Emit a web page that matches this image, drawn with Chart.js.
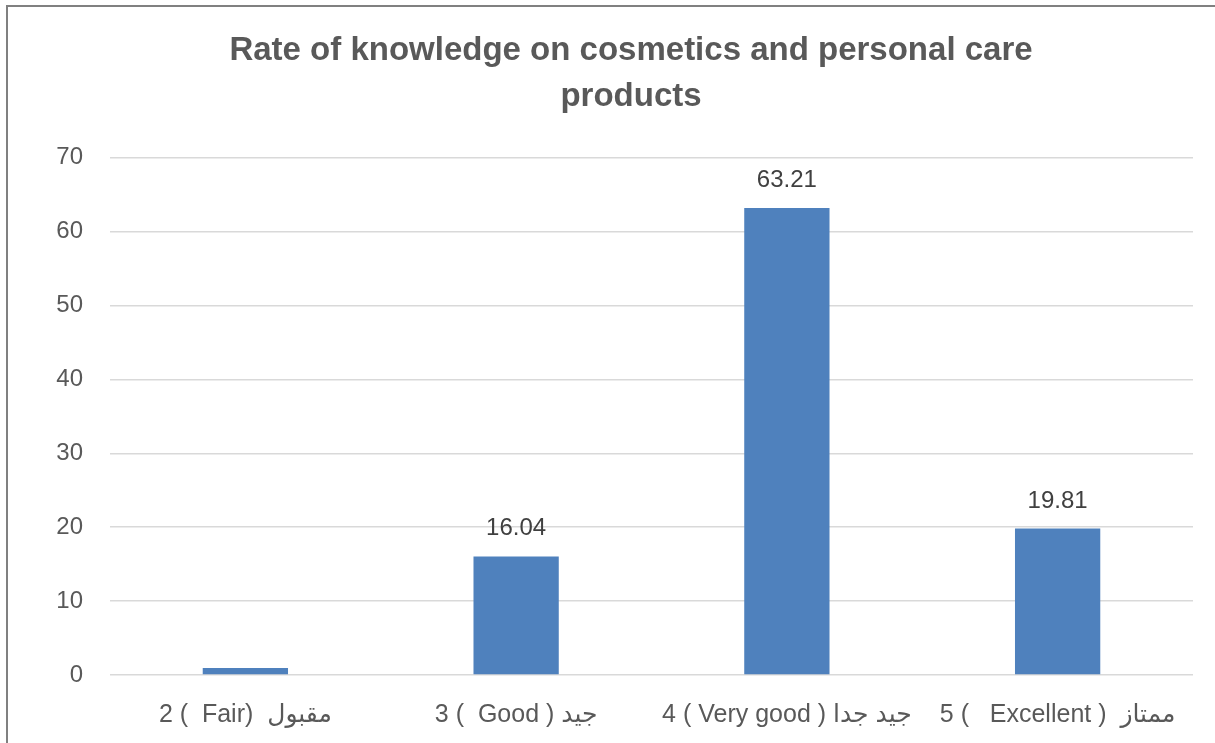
<!DOCTYPE html>
<html>
<head>
<meta charset="utf-8">
<script src="https://cdn.jsdelivr.net/npm/chart.js@4"></script>
<style>
  html, body { margin: 0; padding: 0; background: #fff; }
  #wrap { position: relative; width: 1215px; height: 743px; }
</style>
</head>
<body>
<div id="wrap"><canvas id="knowledgeChart" width="1215" height="743"></canvas></div>
<script>
// Rating categories (English with Arabic)
const categories = [
    '2 (  Fair)  مقبول',
    '3 (  Good ) جيد',
    '4 ( Very good ) جيد جدا',
    '5 (   Excellent )  ممتاز'
];
// Percent of respondents per rating
const percents = [0.94, 16.04, 63.21, 19.81];
// Which bars carry a value label
const showValue = [false, true, true, true];
const yTicks = [0, 10, 20, 30, 40, 50, 60, 70];

const textFont = "'Liberation Sans', 'DejaVu Sans', sans-serif";

// Value labels above the bars
const valueLabels = {
    id: 'valueLabels',
    afterDatasetsDraw(chart) {
        const ctx = chart.ctx;
        const meta = chart.getDatasetMeta(0);
        ctx.save();
        ctx.font = '24px ' + textFont;
        ctx.fillStyle = '#404040';
        ctx.textAlign = 'center';
        ctx.textBaseline = 'alphabetic';
        meta.data.forEach((bar, i) => {
            if (!showValue[i]) return;
            ctx.fillText(percents[i].toFixed(2), bar.x, bar.y - 21);
        });
        ctx.restore();
    }
};

// Chart frame (left and top edges), title centred over the plot
const frame = {
    id: 'frame',
    afterLayout(chart) {
        if (chart.titleBlock) chart.titleBlock.left = 69;
    },
    beforeDraw(chart) {
        const ctx = chart.ctx;
        ctx.save();
        ctx.fillStyle = '#fff';
        ctx.fillRect(0, 0, chart.width, chart.height);
        ctx.strokeStyle = '#808080';
        ctx.lineWidth = 2;
        ctx.beginPath();
        ctx.moveTo(7, chart.height);
        ctx.lineTo(7, 6);
        ctx.lineTo(1215, 6);
        ctx.stroke();
        ctx.restore();
    }
};

new Chart(document.getElementById('knowledgeChart'), {
    type: 'bar',
    data: {
        labels: categories,
        datasets: [{
            data: percents,
            backgroundColor: '#4f81bd',
            borderWidth: 0,
            categoryPercentage: 1,
            barPercentage: 0.315
        }]
    },
    options: {
        responsive: false,
        animation: false,
        layout: { padding: { left: 0, right: 22, top: 0, bottom: 0 } },
        plugins: {
            legend: { display: false },
            tooltip: { enabled: false },
            title: {
                display: true,
                text: ['Rate of knowledge on cosmetics and personal care', 'products'],
                color: '#595959',
                font: { family: textFont, size: 33, weight: 'bold', lineHeight: 1.42 },
                padding: { top: 27, bottom: 37 }
            }
        },
        scales: {
            x: {
                afterFit: axis => { axis.height = 68; },
                grid: { display: false },
                border: { display: false },
                ticks: {
                    color: '#595959',
                    font: { family: textFont, size: 25 },
                    padding: 17,
                    maxRotation: 0,
                    autoSkip: false
                }
            },
            y: {
                min: 0,
                max: 70,
                afterBuildTicks: axis => { axis.ticks = yTicks.map(v => ({ value: v })); },
                afterFit: axis => { axis.width = 110; },
                grid: { color: '#d9d9d9', lineWidth: 1.5, drawTicks: false },
                border: { display: false },
                ticks: {
                    color: '#595959',
                    font: { family: textFont, size: 24 },
                    padding: 27
                }
            }
        }
    },
    plugins: [frame, valueLabels]
});
</script>
</body>
</html>
